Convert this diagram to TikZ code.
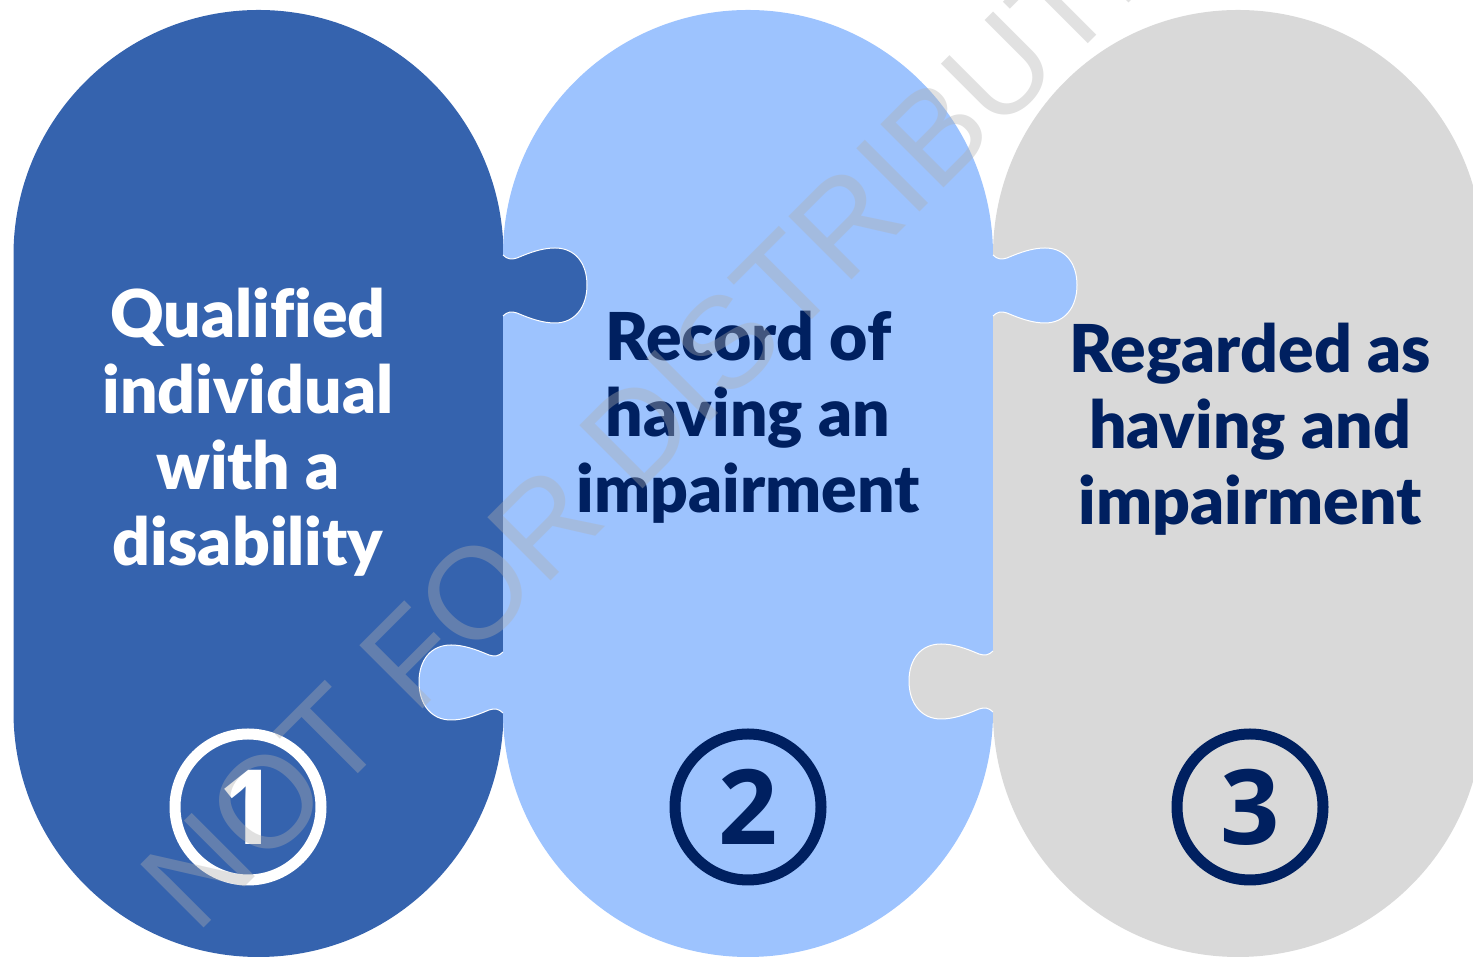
\documentclass[tikz,border=0pt]{standalone}
\usepackage{fontspec}
\setmainfont{Lato}
\newfontfamily\capfont{Lato Black}[Ligatures=NoCommon]
\newfontfamily\digitfont{Open Sans}
\newfontfamily\wmfont{Liberation Sans}
\definecolor{pieceA}{RGB}{53,99,174}
\definecolor{pieceB}{RGB}{157,195,254}
\definecolor{pieceC}{RGB}{217,217,217}
\definecolor{navy}{RGB}{0,32,96}
\definecolor{wmgray}{RGB}{175,175,175}
\tikzset{
  label/.style={align=center, anchor=base, font=\capfont\fontsize{66}{76}\selectfont, inner sep=0pt},
  ring/.style={circle, draw=#1, text=#1, line width=11pt, minimum size=146pt, inner sep=0pt,
               font=\digitfont\bfseries\fontsize{104}{104}\selectfont},
  % puzzle tab: bulb pointing to +x, neck at the origin
  tabshape/.pic={
    \fill[#1] (-3,30) -- (0,30) .. controls (4,26) and (8,25) .. (14,27)
      .. controls (28,33) and (40,37) .. (52,37)
      .. controls (72,37) and (84,22) .. (84,0)
      .. controls (84,-22) and (72,-38) .. (52,-38)
      .. controls (40,-38) and (28,-34) .. (14,-28)
      .. controls (8,-26) and (4,-27) .. (0,-31) -- (-3,-31) -- cycle;
    \draw[white, line width=1pt] (0,30) .. controls (4,26) and (8,25) .. (14,27)
      .. controls (28,33) and (40,37) .. (52,37)
      .. controls (72,37) and (84,22) .. (84,0)
      .. controls (84,-22) and (72,-38) .. (52,-38)
      .. controls (40,-38) and (28,-34) .. (14,-28)
      .. controls (8,-26) and (4,-27) .. (0,-31);
  }
}
\begin{document}
\begin{tikzpicture}[x=1pt,y=1pt]
\useasboundingbox (0,0) rectangle (1473,957);
\clip (0,0) rectangle (1473,957);

% stadium-shaped pieces
\fill[pieceA] (13.5,245) -- (13.5,702) arc[start angle=180,end angle=0,radius=245]
  -- (503.5,245) arc[start angle=0,end angle=-180,radius=245] -- cycle;
\fill[pieceB] (503,245) -- (503,702) arc[start angle=180,end angle=0,radius=245]
  -- (993,245) arc[start angle=0,end angle=-180,radius=245] -- cycle;
\fill[pieceC] (993,245) -- (993,702) arc[start angle=180,end angle=0,radius=245]
  -- (1483,245) arc[start angle=0,end angle=-180,radius=245] -- cycle;

% interlocking tabs
\pic at (503,672) {tabshape=pieceA};
\pic[xscale=-1] at (503,275) {tabshape=pieceB};
\pic at (993,672) {tabshape=pieceB};
\pic[xscale=-1] at (993,276) {tabshape=pieceC};

% captions (anchored at the baseline of the last line)
\node[label, text=white] (t1) at (248,391) {Qualified\\individual\\with a\\disability};
\node[label, text=navy] (t2) at (748,444) {Record of\\having an\\impairment};
\node[label, text=navy] (t3) at (1250,432) {Regarded as\\having and\\impairment};

% numbered rings
\node[ring=white] (n1) at (248,150) {1};
\node[ring=navy] (n2) at (748,150) {2};
\node[ring=navy] (n3) at (1250,150) {3};

% watermark
\node[rotate=45, anchor=base west, inner sep=0pt, text=wmgray, text opacity=0.38,
      font=\wmfont\fontsize{130}{130}\selectfont] (wm) at (196,21) {NOT FOR DISTRIBUTION};
\end{tikzpicture}
\end{document}
